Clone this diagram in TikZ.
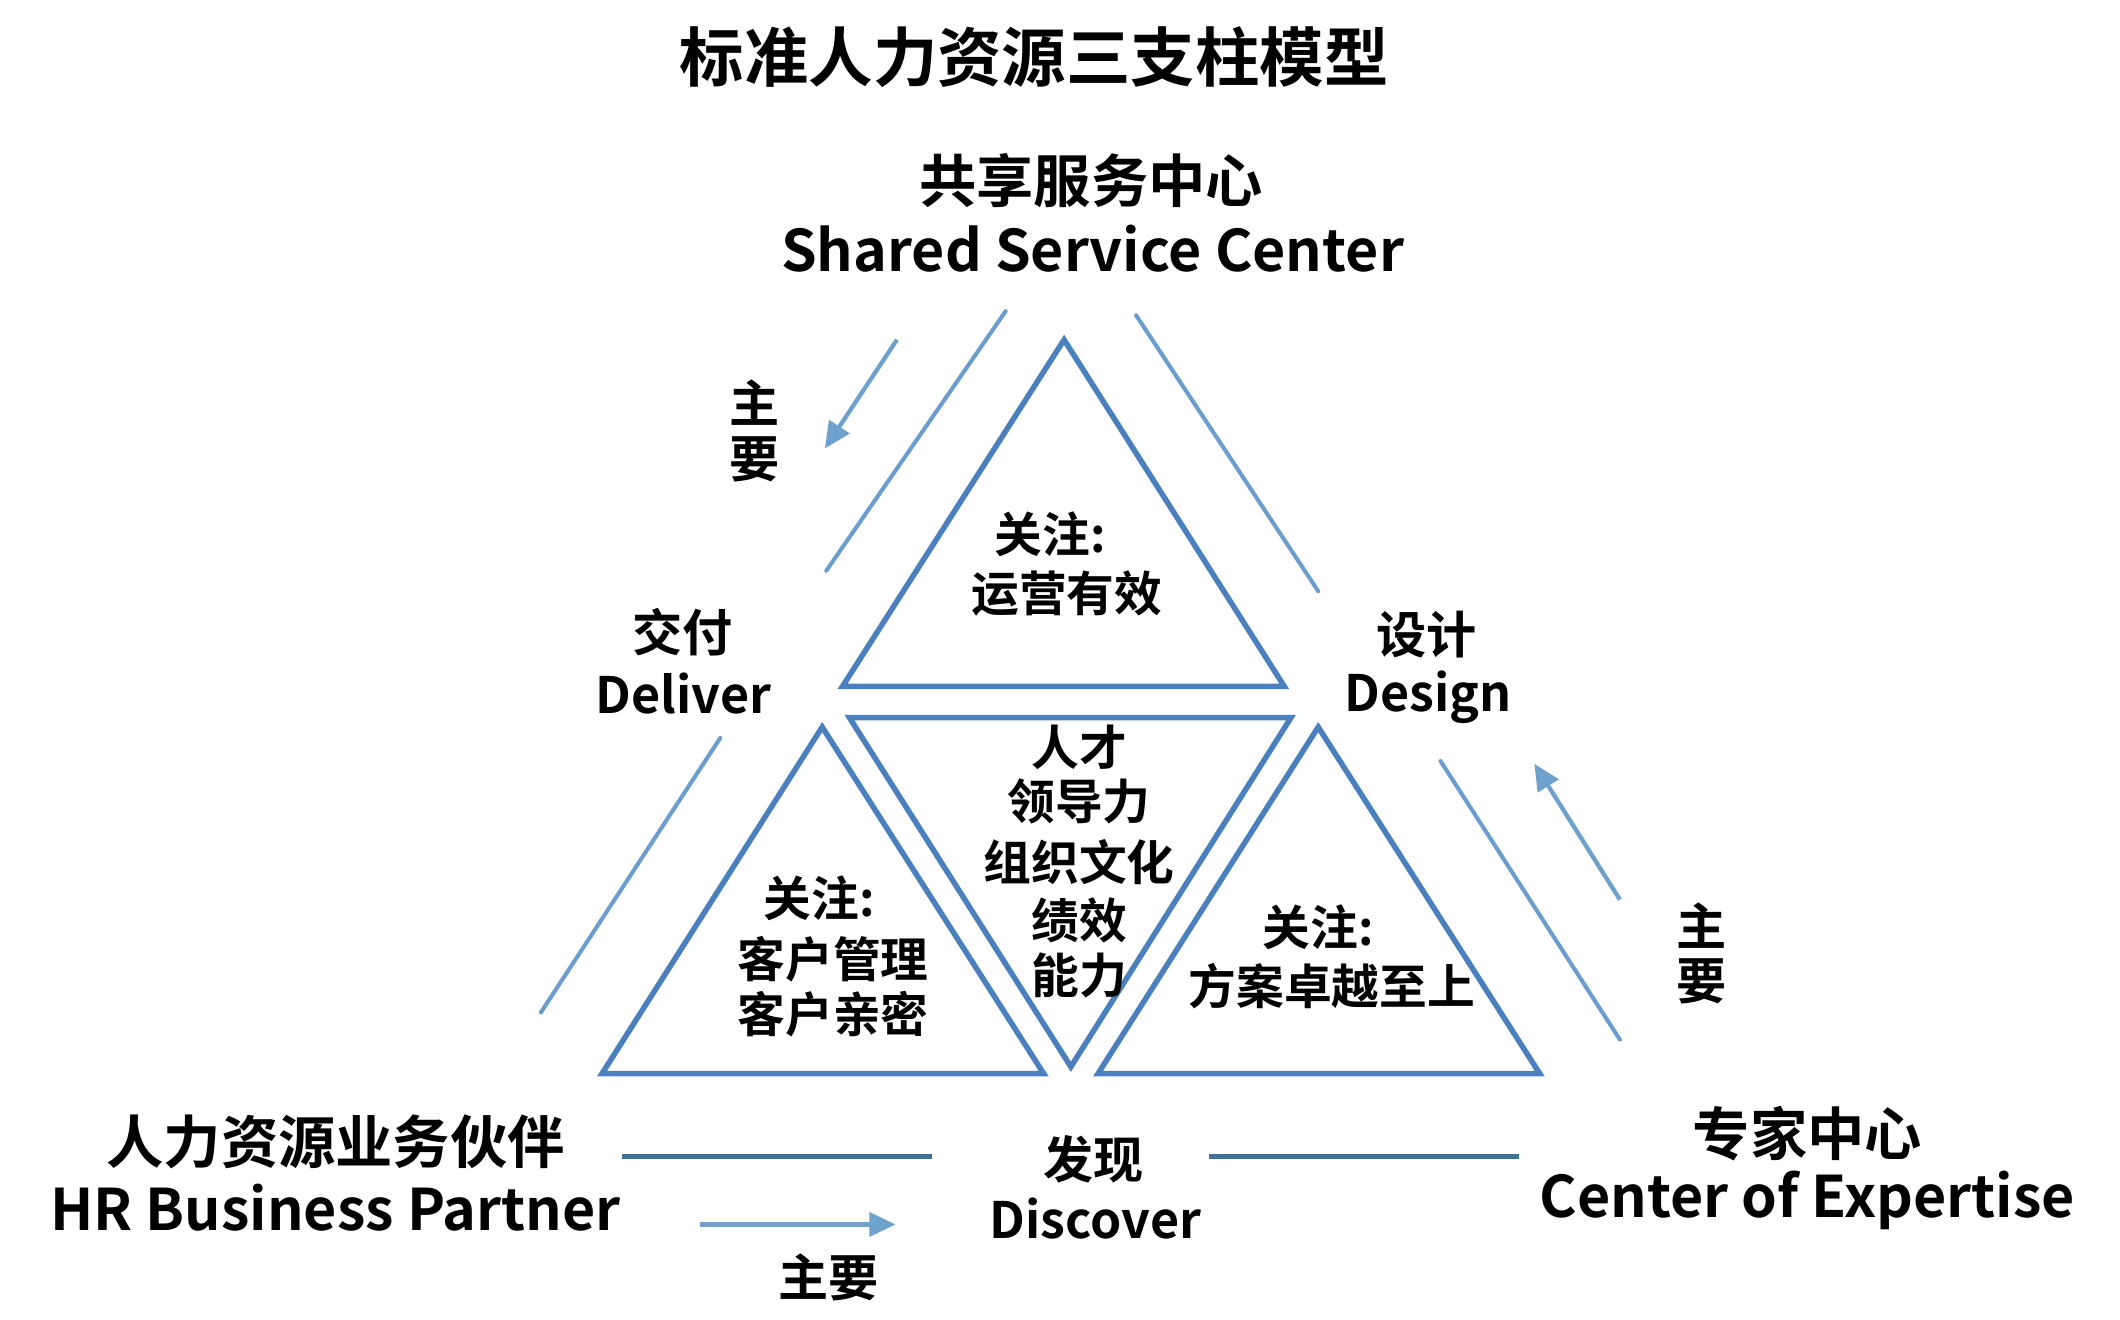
\documentclass[tikz,border=0pt]{standalone}
\usepackage{fontspec}
\setmainfont{Noto Sans CJK SC}[BoldFont={Noto Sans CJK SC Bold}]
\usetikzlibrary{arrows.meta}
\definecolor{triblue}{HTML}{4A80BE}
\definecolor{outblue}{HTML}{6C9DCF}
\definecolor{hblue}{HTML}{3F7099}
\definecolor{arrblue}{HTML}{6FA1CD}
\tikzset{
  tri/.style={draw=triblue, line width=2.3pt, line join=miter},
  outline/.style={draw=outblue, line width=1.7pt, line cap=round},
  hline/.style={draw=hblue, line width=1.9pt},
  mainarrow/.style={draw=arrblue, line width=1.8pt, -{Triangle[length=11pt,width=10pt]}},
  big/.style={font=\fontsize{24pt}{26pt}\selectfont\bfseries, inner sep=0pt},
  mid/.style={font=\fontsize{21pt}{23pt}\selectfont\bfseries, inner sep=0pt},
  inner/.style={font=\fontsize{20pt}{22pt}\selectfont\bfseries, inner sep=0pt},
  titlef/.style={font=\fontsize{27pt}{29pt}\selectfont\bfseries, inner sep=0pt},
}
\begin{document}
\begin{tikzpicture}[x=0.02cm,y=-0.02cm]
\useasboundingbox[fill=white] (0,0) rectangle (1560,971);
% title
\node[titlef] (title) at (761,42) {标准人力资源三支柱模型};
% triangles
\coordinate (TA) at (783,250); \coordinate (TL) at (620,505); \coordinate (TR) at (945,505);
\draw[tri] (TA) -- (TL) -- (TR) -- cycle;
\coordinate (MA) at (788,785); \coordinate (ML) at (625,528); \coordinate (MR) at (950,528);
\draw[tri] (MA) -- (ML) -- (MR) -- cycle;
\coordinate (LA) at (605,535); \coordinate (LL) at (443,790); \coordinate (LR) at (768,790);
\draw[tri] (LA) -- (LL) -- (LR) -- cycle;
\coordinate (RA) at (970,535); \coordinate (RL) at (808,790); \coordinate (RR) at (1133,790);
\draw[tri] (RA) -- (RL) -- (RR) -- cycle;
% outer lines
\coordinate (o1a) at (740,229); \coordinate (o1b) at (608,420);
\coordinate (o2a) at (836,232); \coordinate (o2b) at (970,435);
\coordinate (o3a) at (530,543); \coordinate (o3b) at (398,745);
\coordinate (o4a) at (1060,560); \coordinate (o4b) at (1192,765);
\draw[outline] (o1a) -- (o1b);
\draw[outline] (o2a) -- (o2b);
\draw[outline] (o3a) -- (o3b);
\draw[outline] (o4a) -- (o4b);
\coordinate (h1a) at (458,851); \coordinate (h1b) at (686,851);
\coordinate (h2a) at (890,851); \coordinate (h2b) at (1118,851);
\draw[hline] (h1a) -- (h1b);
\draw[hline] (h2a) -- (h2b);
% arrows
\coordinate (a1a) at (660,250); \coordinate (a1b) at (607,330);
\coordinate (a2a) at (1192,662); \coordinate (a2b) at (1129,562);
\coordinate (a3a) at (515,901); \coordinate (a3b) at (659,901);
\draw[mainarrow] (a1a) -- (a1b);
\draw[mainarrow] (a2a) -- (a2b);
\draw[mainarrow] (a3a) -- (a3b);
% labels
\node[big] (ssc1) at (803,133) {共享服务中心};
\node[big] (ssc2) at (804,183) {Shared Service Center};
\node[mid] (zy1a) at (555,296) {主};
\node[mid] (zy1b) at (555,338) {要};
\node[mid] (del1) at (502,465) {交付};
\node[mid] (del2) at (503,510) {Deliver};
\node[mid] (des1) at (1050,467) {设计};
\node[mid] (des2) at (1051,513) {Design};
\node[inner] (t1a) at (773,393) {关注:};
\node[inner] (t1b) at (785,437) {运营有效};
\node[inner] (m1) at (794,550) {人才};
\node[inner] (m2) at (794,590) {领导力};
\node[inner] (m3) at (794,634) {组织文化};
\node[inner] (m4) at (794,677) {绩效};
\node[inner] (m5) at (794,718) {能力};
\node[inner] (l1) at (603,661) {关注:};
\node[inner] (l2) at (613,706) {客户管理};
\node[inner] (l3) at (613,746) {客户亲密};
\node[inner] (r1) at (970,682) {关注:};
\node[inner] (r2) at (980,726) {方案卓越至上};
\node[mid] (zy2a) at (1252,681) {主};
\node[mid] (zy2b) at (1252,722) {要};
\node[big] (hr1) at (247,840) {人力资源业务伙伴};
\node[big] (hr2) at (247,889) {HR Business Partner};
\node[mid] (dis1) at (805,853) {发现};
\node[mid] (dis2) at (806,897) {Discover};
\node[big] (coe1) at (1330,834) {专家中心};
\node[big] (coe2) at (1330,883) {Center of Expertise};
\node[mid] (zy3) at (610,940) {主要};
\end{tikzpicture}
\end{document}
